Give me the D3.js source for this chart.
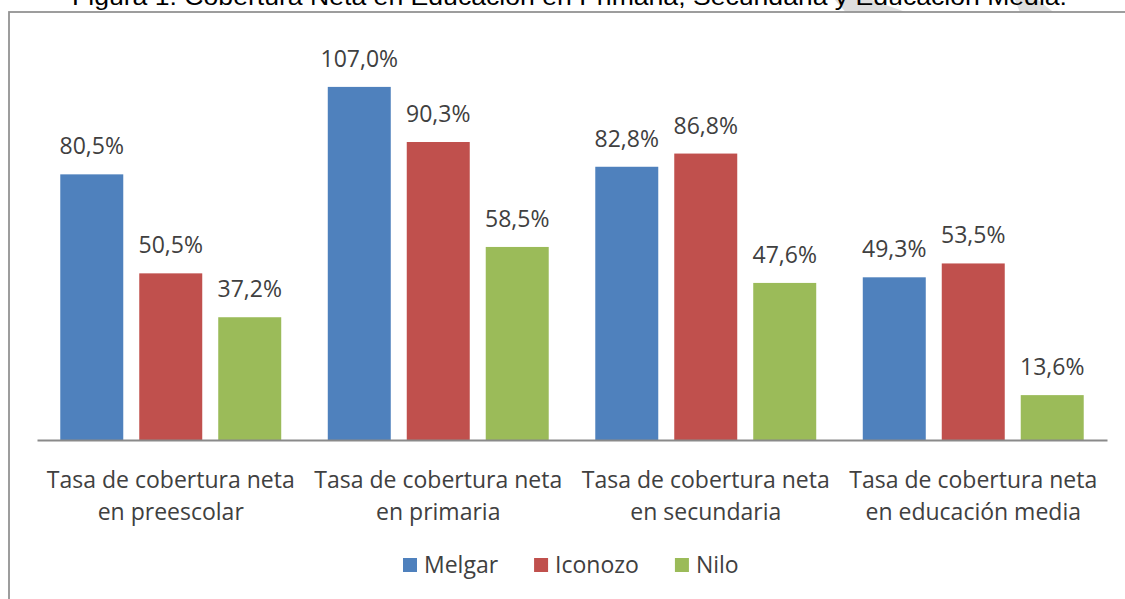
<!DOCTYPE html>
<html>
<head>
<meta charset="utf-8">
<script src="https://cdn.jsdelivr.net/npm/d3@7"></script>
<style>
  html, body { margin: 0; padding: 0; background: #ffffff; }
  svg { display: block; }
</style>
</head>
<body>
<svg id="chart" width="1125" height="599"></svg>
<script>
// ---- data ----
const titleText = "Figura 1. Cobertura Neta en Educación en Primaria, Secundaria y Educación Media.";
const categories = [
  "Tasa de cobertura neta en preescolar",
  "Tasa de cobertura neta en primaria",
  "Tasa de cobertura neta en secundaria",
  "Tasa de cobertura neta en educación media"
];
const seriesNames = ["Melgar", "Iconozo", "Nilo"];
const melgar  = [80.5, 107.0, 82.8, 49.3];
const iconozo = [50.5, 90.3, 86.8, 53.5];
const nilo    = [37.2, 58.5, 47.6, 13.6];
const seriesValues = [melgar, iconozo, nilo];
const seriesColors = ["#4F81BD", "#C0504D", "#9BBB59"];

// ---- layout ----
const W = 1125, H = 599;
const svg = d3.select("#chart");
const fontUI = "'Open Sans', 'Noto Sans', sans-serif";
const textColor = "#404040";

// watermark fragments above frame
const wm = [
  [[835,0],[872,0],[907,12.5],[846,12.5]],
  [[1015,0],[1038,0],[1054,12.5],[1020,12.5]]
];
svg.selectAll("polygon.wm").data(wm).join("polygon")
  .attr("class","wm")
  .attr("points", d => d.map(p => p.join(",")).join(" "))
  .attr("fill", "#dedede");

// title (partly cut by the top edge)
svg.append("text")
  .attr("x", 72).attr("y", 5)
  .attr("textLength", 995).attr("lengthAdjust", "spacingAndGlyphs")
  .attr("font-family", "'Liberation Sans', Arial, sans-serif")
  .attr("font-size", 24)
  .attr("fill", "#000")
  .text(titleText);

// frame
svg.append("rect")
  .attr("x", 9).attr("y", 12).attr("width", W + 20).attr("height", H + 20)
  .attr("fill", "#fff").attr("stroke", "#939393").attr("stroke-width", 1.8);

// scales
const x0 = d3.scaleBand().domain(categories).range([37, 1107])
  .paddingInner(0.174).paddingOuter(0.087);
const x1 = d3.scaleBand().domain(seriesNames).range([0, x0.bandwidth()])
  .paddingInner(0.2025).paddingOuter(0);
const y = d3.scaleLinear().domain([0, 120]).range([440, 44]);

const rows = categories.map((c, i) => ({
  cat: c,
  vals: seriesNames.map((s, j) => ({ s, v: seriesValues[j][i], color: seriesColors[j] }))
}));

const groups = svg.append("g").selectAll("g").data(rows).join("g")
  .attr("transform", d => `translate(${x0(d.cat)},0)`);

groups.selectAll("rect").data(d => d.vals).join("rect")
  .attr("x", d => x1(d.s))
  .attr("y", d => y(d.v))
  .attr("width", x1.bandwidth())
  .attr("height", d => y(0) - y(d.v))
  .attr("fill", d => d.color);

const fmt = v => v.toFixed(1).replace(".", ",") + "%";
groups.selectAll("text.val").data(d => d.vals).join("text")
  .attr("class", "val")
  .attr("x", d => x1(d.s) + x1.bandwidth() / 2)
  .attr("y", d => y(d.v) - 20)
  .attr("text-anchor", "middle")
  .attr("font-family", fontUI)
  .attr("font-size", 23)
  .attr("fill", textColor)
  .text(d => fmt(d.v));

// x axis
const axis = svg.append("g").attr("transform", `translate(0,${y(0)})`)
  .call(d3.axisBottom(x0).tickSize(0).tickSizeOuter(0).tickPadding(0));
axis.select(".domain").attr("stroke", "#8a8a8a").attr("stroke-width", 1.8);
axis.selectAll(".tick text").each(function(d) {
  const t = d3.select(this);
  const m = d.match(/^(Tasa de cobertura neta) (.*)$/);
  t.text(null)
    .attr("font-family", fontUI).attr("font-size", 23).attr("fill", textColor)
    .attr("y", 0).attr("dy", null);
  t.append("tspan").attr("x", 0).attr("y", 48).text(m[1]);
  t.append("tspan").attr("x", 0).attr("y", 80).text(m[2]);
});

// legend
const legend = svg.append("g");
let lx = 403;
seriesNames.forEach((s, j) => {
  legend.append("rect").attr("x", lx).attr("y", 558).attr("width", 14).attr("height", 14)
    .attr("fill", seriesColors[j]);
  const t = legend.append("text").attr("x", lx + 21).attr("y", 573)
    .attr("font-family", fontUI).attr("font-size", 23).attr("fill", textColor).text(s);
  lx += 21 + t.node().getComputedTextLength() + 36;
});
</script>
</body>
</html>
